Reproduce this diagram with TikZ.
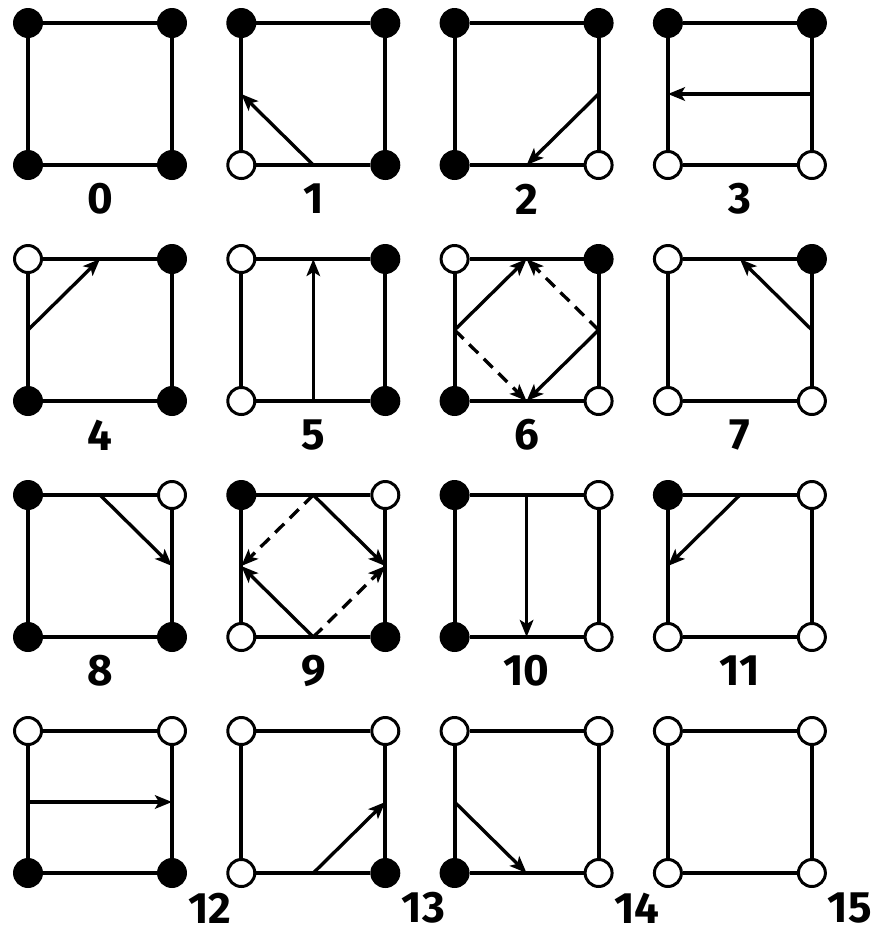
\documentclass[tikz,border=0pt]{standalone}
\usepackage{fontspec}
\setmainfont{Fira Sans}
\usetikzlibrary{arrows.meta}

\begin{document}
\begin{tikzpicture}[
    x=0.02cm, y=-0.02cm,
    vtx/.style={circle, draw=black, line width=1.7pt, minimum size=0.54cm, inner sep=0pt},
    corner0/.style={vtx, fill=black},
    corner1/.style={vtx, fill=white},
    edge/.style={line width=2.3pt},
    flow/.style={-{Stealth[length=0.34cm, width=0.27cm, inset=0.08cm]}, line width=1.9pt},
    ghost/.style={flow, dash pattern=on 0.25cm off 0.16cm},
    lbl/.style={font=\fontsize{25}{30}\selectfont\bfseries}
]
\useasboundingbox (0,0) rectangle (882,931);

% Cells
\foreach \n in {0,...,15} {
  \pgfmathtruncatemacro\col{mod(\n,4)}
  \pgfmathtruncatemacro\row{div(\n,4)}
  \pgfmathtruncatemacro\bl{mod(\n,2)}
  \pgfmathtruncatemacro\br{mod(div(\n,2),2)}
  \pgfmathtruncatemacro\tl{mod(div(\n,4),2)}
  \pgfmathtruncatemacro\tr{div(\n,8)}
  \pgfmathsetmacro\cx{28+213.3*\col}
  \pgfmathsetmacro\cy{23+236*\row}
  \pgfmathsetmacro\lx{\row==3 ? 182 : 72}
  \pgfmathsetmacro\ly{\row==3 ? 177 : 176}
  \begin{scope}[shift={(\cx,\cy)}]
    \node[corner\tl] (c\n-tl) at (0,0) {};
    \node[corner\tr] (c\n-tr) at (144,0) {};
    \node[corner\bl] (c\n-bl) at (0,142) {};
    \node[corner\br] (c\n-br) at (144,142) {};
    \draw[edge] (c\n-tl) -- (c\n-tr);
    \draw[edge] (c\n-tr) -- (c\n-br);
    \draw[edge] (c\n-br) -- (c\n-bl);
    \draw[edge] (c\n-bl) -- (c\n-tl);
    \coordinate (m\n-l) at (0,71);
    \coordinate (m\n-r) at (144,71);
    \coordinate (m\n-t) at (72,0);
    \coordinate (m\n-b) at (72,142);
    \node[lbl] (lab\n) at (\lx,\ly) {\n};
  \end{scope}
}

% Contour segments
\draw[flow] (m1-b) -- (m1-l);
\draw[flow] (m2-r) -- (m2-b);
\draw[flow] (m3-r) -- (m3-l);
\draw[flow] (m4-l) -- (m4-t);
\draw[flow] (m5-b) -- (m5-t);
\draw[flow] (m6-l) -- (m6-t);
\draw[flow] (m6-r) -- (m6-b);
\draw[ghost] (m6-l) -- (m6-b);
\draw[ghost] (m6-r) -- (m6-t);
\draw[flow] (m7-r) -- (m7-t);
\draw[flow] (m8-t) -- (m8-r);
\draw[flow] (m9-t) -- (m9-r);
\draw[flow] (m9-b) -- (m9-l);
\draw[ghost] (m9-t) -- (m9-l);
\draw[ghost] (m9-b) -- (m9-r);
\draw[flow] (m10-t) -- (m10-b);
\draw[flow] (m11-t) -- (m11-l);
\draw[flow] (m12-l) -- (m12-r);
\draw[flow] (m13-b) -- (m13-r);
\draw[flow] (m14-l) -- (m14-b);

\end{tikzpicture}
\end{document}
